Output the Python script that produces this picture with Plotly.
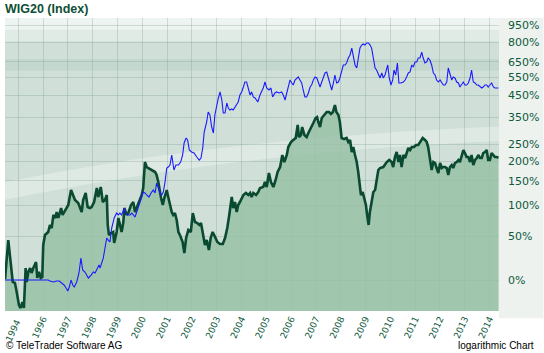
import plotly.graph_objects as go

# ---- data (values are % change since start) ----
g_year = [1994.47,1994.60,1994.78,1994.87,1994.94,1995.03,1995.10,1995.17,1995.23,1995.30,1995.34,1995.41,1995.48,1995.54,1995.61,1995.72,1995.77,1995.84,1995.91,1995.97,
          1996.01,1996.08,1996.21,1996.28,1996.35,1996.42,1996.51,1996.55,1996.62,1996.73,1996.79,1996.89,1997.02,1997.13,1997.22,1997.29,1997.42,1997.56,1997.62,1997.72,
          1997.80,1997.89,1997.96,1998.06,1998.17,1998.23,1998.33,1998.41,1998.50,1998.57,1998.61,1998.66,1998.74,1998.83,1998.87,1998.97,1999.04,1999.10,1999.17,1999.24,
          1999.28,1999.37,1999.44,1999.55,1999.64,1999.71,1999.78,1999.87,1999.98,2000.04,2000.11,2000.18,2000.25,2000.38,2000.52,2000.58,2000.65,2000.76,2000.83,2000.89,
          2000.99,2001.05,2001.12,2001.19,2001.25,2001.32,2001.39,2001.46,2001.52,2001.63,2001.70,2001.77,2001.86,2001.96,2002.04,2002.13,2002.22,2002.30,2002.37,2002.44,
          2002.53,2002.60,2002.69,2002.76,2002.84,2002.94,2003.03,2003.14,2003.25,2003.34,2003.43,2003.51,2003.61,2003.67,2003.74,2003.81,2003.87,2003.94,2004.01,2004.08,
          2004.18,2004.28,2004.35,2004.41,2004.48,2004.59,2004.68,2004.75,2004.88,2004.95,2005.02,2005.11,2005.19,2005.29,2005.38,2005.46,2005.56,2005.65,2005.73,2005.83,
          2005.89,2006.00,2006.09,2006.19,2006.27,2006.32,2006.40,2006.45,2006.54,2006.63,2006.70,2006.81,2006.90,2006.99,2007.05,2007.10,2007.17,2007.24,2007.34,2007.44,
          2007.53,2007.61,2007.69,2007.77,2007.83,2007.91,2007.97,2008.04,2008.14,2008.24,2008.31,2008.38,2008.45,2008.51,2008.58,2008.65,2008.71,2008.78,2008.82,2008.89,
          2008.95,2009.02,2009.07,2009.13,2009.18,2009.25,2009.32,2009.39,2009.45,2009.52,2009.59,2009.72,2009.86,2009.96,2010.06,2010.12,2010.19,2010.26,2010.33,2010.39,
          2010.46,2010.53,2010.60,2010.66,2010.73,2010.80,2010.87,2010.96,2011.04,2011.13,2011.20,2011.31,2011.40,2011.47,2011.53,2011.60,2011.67,2011.74,2011.81,2011.87,
          2011.94,2012.01,2012.08,2012.14,2012.21,2012.28,2012.34,2012.41,2012.48,2012.54,2012.61,2012.68,2012.75,2012.81,2012.88,2012.95,2013.01,2013.08,2013.15,2013.22,
          2013.28,2013.35,2013.42,2013.49,2013.55,2013.62,2013.69,2013.75,2013.82,2013.89,2013.95,2014.02,2014.09,2014.16,2014.22,2014.29,2014.36]
g_val = [0.9,44.7,-1.8,-2.7,-10.5,-20.6,-22.8,-18.4,-22.8,11.7,-1.8,7.7,11.7,6.7,11.7,18.1,1.9,7.7,1.9,2.8,
         38.2,51.6,55.8,66.3,61.7,82.4,77.4,87.5,77.4,94.5,82.4,90.9,100,129.7,119.4,109.5,103.7,87.5,109.5,123.5,
         96.3,94.5,96.3,105.6,134.1,115.3,136.2,105.6,109.5,119.4,66.3,51.6,54.4,55.8,40.8,55.8,77.4,66.3,55.8,70.9,
         94.5,82.4,85.7,100,105.6,87.5,96.3,105.6,119.4,134.1,197.5,184.1,181.5,176.4,171.3,164.0,147.4,113.4,100,113.4,
         129.7,115.3,100,87.5,82.4,85.7,74.1,55.8,51.6,42.1,28.3,47.4,58.7,55.8,85.7,70.9,69.3,66.3,69.3,55.8,
         38.2,44.7,32.0,47.4,55.8,48.8,42.1,39.5,39.5,47.4,61.7,82.4,115.3,94.5,105.6,87.5,100,105.6,113.4,119.4,
         123.5,119.4,123.5,115.3,123.5,119.4,125.5,134.1,136.2,147.4,136.2,168.9,147.4,136.2,152.0,171.3,184.1,217.5,197.5,217.5,
         241.8,258.0,264.7,271.5,319,274.9,281.9,311.3,281.9,274.9,289.0,307.5,326.7,346.9,351.0,330.7,311.3,346.9,359.5,372.4,
         372.4,363.8,372.4,404.0,372.4,359.5,330.7,271.5,268.1,271.5,258.0,264.7,226.4,241.8,217.5,197.5,171.3,134.1,119.4,125.5,
         115.3,100,82.4,66.3,87.5,105.6,125.5,129.7,156.7,176.4,181.5,184.1,197.5,203.1,197.5,184.1,211.7,226.4,197.5,217.5,
         184.1,217.5,208.8,226.4,238.7,232.5,241.8,241.8,248.2,248.2,258.0,271.5,264.7,258.0,241.8,208.8,176.4,197.5,194.8,181.5,
         168.9,194.8,181.5,184.1,184.1,181.5,164.0,184.1,189.5,181.5,194.8,197.5,203.1,197.5,211.7,232.5,223.4,211.7,211.7,197.5,
         217.5,189.5,203.1,208.8,217.5,208.8,208.8,223.4,226.4,232.5,203.1,203.1,223.4,217.5,211.7,211.7,208.8]

b_year = [1994.47,1996.21,1996.28,1996.42,1996.55,1996.66,1996.75,1996.85,1996.93,1997.00,1997.06,1997.13,1997.20,1997.26,1997.36,1997.45,1997.53,1997.60,1997.69,1997.76,
          1997.83,1997.94,1998.03,1998.10,1998.21,1998.26,1998.30,1998.37,1998.43,1998.50,1998.57,1998.63,1998.70,1998.77,1998.87,1998.97,1999.04,1999.10,1999.17,1999.28,
          1999.33,1999.41,1999.51,1999.58,1999.64,1999.71,1999.78,1999.84,1999.91,1999.98,2000.04,2000.11,2000.18,2000.27,2000.38,2000.45,2000.52,2000.58,2000.65,2000.72,
          2000.79,2000.85,2000.92,2000.99,2001.05,2001.12,2001.19,2001.23,2001.28,2001.36,2001.46,2001.55,2001.63,2001.69,2001.77,2001.83,2001.90,2001.99,2002.09,2002.20,
          2002.30,2002.37,2002.44,2002.50,2002.60,2002.66,2002.73,2002.80,2002.87,2002.93,2003.00,2003.07,2003.14,2003.21,2003.27,2003.34,2003.41,2003.47,2003.54,2003.61,
          2003.67,2003.74,2003.81,2003.87,2003.94,2004.01,2004.08,2004.14,2004.21,2004.28,2004.35,2004.41,2004.48,2004.55,2004.62,2004.66,2004.75,2004.82,2004.88,2004.95,
          2005.02,2005.11,2005.19,2005.26,2005.35,2005.42,2005.52,2005.62,2005.69,2005.76,2005.83,2005.89,2005.96,2006.03,2006.09,2006.16,2006.23,2006.29,2006.36,2006.43,
          2006.49,2006.56,2006.63,2006.70,2006.77,2006.83,2006.90,2006.97,2007.04,2007.10,2007.17,2007.24,2007.30,2007.37,2007.44,2007.50,2007.57,2007.64,2007.71,2007.77,
          2007.84,2007.91,2007.97,2008.04,2008.11,2008.18,2008.24,2008.31,2008.38,2008.45,2008.51,2008.58,2008.65,2008.71,2008.78,2008.85,2008.91,2008.98,2009.05,2009.12,
          2009.19,2009.25,2009.32,2009.39,2009.45,2009.52,2009.59,2009.66,2009.72,2009.79,2009.86,2009.90,2009.96,2010.03,2010.10,2010.15,2010.22,2010.29,2010.35,2010.43,
          2010.53,2010.60,2010.66,2010.73,2010.80,2010.87,2010.93,2011.00,2011.07,2011.13,2011.20,2011.27,2011.33,2011.40,2011.47,2011.53,2011.60,2011.67,2011.74,2011.81,
          2011.87,2011.94,2012.01,2012.08,2012.14,2012.21,2012.28,2012.34,2012.41,2012.48,2012.54,2012.61,2012.68,2012.75,2012.81,2012.88,2012.95,2013.01,2013.08,2013.15,
          2013.22,2013.28,2013.35,2013.42,2013.49,2013.55,2013.62,2013.69,2013.75,2013.82,2013.89,2013.95,2014.02,2014.09,2014.16,2014.22,2014.29,2014.36]
b_val = [0,0,-0.9,-1.8,-0.9,-0.9,-2.7,-4.5,-7.1,-9.7,-6.3,0,-4.5,-6.3,-1.8,6.7,22.5,9.7,7.7,4.7,
         1.9,4.7,7.7,6.7,11.7,14.9,11.7,18.1,22.5,34.4,47.4,44.7,42.1,61.7,77.4,85.7,82.4,85.7,82.4,94.5,
         85.7,82.4,82.4,85.7,82.4,79.0,87.5,94.5,105.6,115.3,125.5,123.5,119.4,115.3,125.5,129.7,123.5,145.1,134.1,123.5,
         119.4,125.5,147.4,181.5,184.1,189.5,217.5,194.8,176.4,189.5,189.5,197.5,217.5,254.7,271.5,264.7,232.5,226.4,223.4,211.7,
         203.1,208.8,238.7,292.6,330.7,372.4,359.5,311.3,289.0,359.5,404.0,437.7,468.4,427.8,368.1,368.1,413.4,390.2,381.2,385.7,
         381.2,394.7,404.0,418.2,452.8,468.4,495.2,523.3,523.3,489.7,452.8,468.4,442.7,437.7,427.8,418.2,452.8,468.4,489.7,523.3,
         489.7,478.9,489.7,442.7,463.2,468.4,463.2,468.4,452.8,427.8,468.4,489.7,535,517.6,506.3,535,546.9,552.9,535,517.6,
         478.9,442.7,442.7,463.2,495.2,506.3,535,552.9,546.9,517.6,495.2,523.3,552.9,577.4,583.7,546.9,517.6,478.9,517.6,565,
         517.6,523.3,546.9,583.7,629.6,629.6,643,678,700,753,678,629.6,609.5,678,753,777,786,777,794,794,
         777,753,678,609.5,596.4,565,546.9,577.4,546.9,565,596.4,629.6,546.9,506.3,535,596.4,565,643,517.6,517.6,
         523.3,535,552.9,577.4,583.7,629.6,616,650,650,678,678,722,678,643,650,678,664,629.6,577.4,565,
         535,523.3,535,517.6,506.3,506.3,523.3,609.5,565,535,552.9,546.9,523.3,517.6,495.2,506.3,523.3,506.3,506.3,517.6,
         546.9,596.4,523.3,517.6,506.3,506.3,495.2,489.7,495.2,506.3,506.3,495.2,506.3,517.6,495.2,489.7,489.7,489.7]

y_ticks = [0, 50, 100, 150, 200, 250, 350, 450, 550, 650, 800, 950]
x_ticks = [1994.47] + list(range(1995, 2015))
x_ticklabels = ["", ""] + [str(y) for y in range(1996, 2015)]
first_label = "1994"

DARK = "#0d5a3c"

def ratio(vals):
    return [1 + v / 100.0 for v in vals]

fig = go.Figure()

fig.add_trace(go.Scatter(
    x=g_year, y=ratio(g_val), mode="lines",
    line=dict(color="#0a4a30", width=2.6),
    fill="tozeroy", fillcolor="rgba(150,192,165,0.82)",
    hoverinfo="skip", showlegend=False))

fig.add_trace(go.Scatter(
    x=b_year, y=ratio(b_val), mode="lines",
    line=dict(color="#1a1aff", width=1.1),
    hoverinfo="skip", showlegend=False))

shapes = []
# light panel behind the right-hand labels
shapes.append(dict(type="rect", xref="paper", yref="paper", x0=1.0, x1=1.09, y0=-0.025, y1=1.0,
                   fillcolor="#edf2ef", line=dict(width=0), layer="below"))
# background gradient bands in the plot area
bands = [(0.92, 1.0, "rgba(255,255,255,0.35)"), (0.96, 1.0, "rgba(255,255,255,0.45)"),
         (0.82, 0.86, "rgba(110,150,130,0.10)")]
for y0, y1, c in bands:
    shapes.append(dict(type="rect", xref="x domain", yref="y domain", x0=0, x1=1, y0=y0, y1=y1,
                       fillcolor=c, line=dict(width=0), layer="below"))
# soft diagonal light swoosh
shapes.append(dict(type="path", xref="x domain", yref="y domain",
                   path="M 0,0.38 C 0.3,0.48 0.6,0.55 1,0.58 L 1,0.63 C 0.6,0.60 0.3,0.54 0,0.44 Z",
                   fillcolor="rgba(255,255,255,0.3)", line=dict(width=0), layer="below"))

fig.update_layout(
    width=544, height=353,
    margin=dict(l=5, r=45, t=18, b=42, autoexpand=False),
    paper_bgcolor="white",
    plot_bgcolor="#d0e0d9",
    shapes=shapes,
    xaxis=dict(range=[1994.468, 2014.386], tickmode="array", tickvals=x_ticks, ticktext=x_ticklabels,
               tickangle=-65, tickfont=dict(family="DejaVu Sans", size=9, color=DARK),
               automargin=False,
               showgrid=True, gridcolor="rgba(110,150,130,0.28)", gridwidth=1,
               zeroline=False, showline=False, ticks=""),
    yaxis=dict(type="log", range=[-0.1244, 1.0516], side="right", automargin=False,
               tickmode="array", tickvals=ratio(y_ticks), ticktext=[f"{v}%" for v in y_ticks],
               tickfont=dict(family="DejaVu Sans", size=11, color=DARK), ticklabelstandoff=8,
               showgrid=True, gridcolor="rgba(110,150,130,0.28)", gridwidth=1,
               zeroline=False, showline=False, ticks=""),
    annotations=[
        dict(text="<b>WIG20 (Index)</b>", xref="paper", yref="paper", x=-0.005, y=1.0, yshift=18,
             xanchor="left", yanchor="top", showarrow=False,
             font=dict(family="Liberation Sans, Arial", size=12.5, color="#0d4f35")),
        dict(text=first_label, xref="paper", yref="paper", x=0, y=0, xshift=-4, yshift=-5,
             xanchor="left", yanchor="top", showarrow=False, textangle=-65,
             font=dict(family="DejaVu Sans", size=9, color=DARK)),
        dict(text="© TeleTrader Software AG", xref="paper", yref="paper", x=-0.003, y=0, yshift=-42,
             xanchor="left", yanchor="bottom", showarrow=False,
             font=dict(family="Liberation Sans, Arial", size=10, color="black")),
        dict(text="logarithmic Chart", xref="paper", yref="paper", x=1.075, y=0, yshift=-42,
             xanchor="right", yanchor="bottom", showarrow=False,
             font=dict(family="Liberation Sans, Arial", size=10, color="black")),
    ],
)

fig.write_html("out.html")
